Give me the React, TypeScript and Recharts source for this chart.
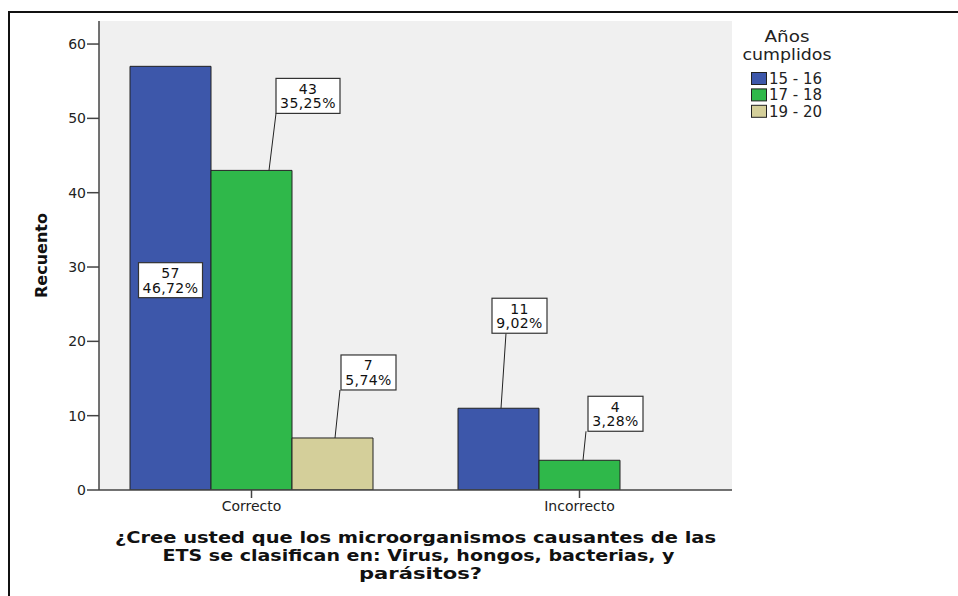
import React from "react";
import { BarChart, Bar, XAxis, YAxis, CartesianGrid, Legend } from "recharts";

// categories on the x axis
const categories = ["Correcto", "Incorrecto"];
// counts per age group
const age15to16 = [57, 11];
const age17to18 = [43, 4];
const age19to20: (number | null)[] = [7, null];
const seriesNames = ["15 - 16", "17 - 18", "19 - 20"];
const yTicks = [0, 10, 20, 30, 40, 50, 60];

const titleLines = [
  "¿Cree usted que los microorganismos causantes de las",
  "ETS se clasifican en: Virus, hongos, bacterias, y",
  "parásitos?",
];
const legendTitle = ["Años", "cumplidos"];

const COLORS = ["#3d57aa", "#2fb84a", "#d4cf9a"];
const FONT = '"DejaVu Sans", Verdana, sans-serif';

const data = categories.map((cat, i) => ({
  cat,
  s0: age15to16[i],
  s1: age17to18[i],
  s2: age19to20[i],
}));

const total = [...age15to16, ...age17to18, ...age19to20].reduce<number>((a, b) => a + (b ?? 0), 0);

// where each value box sits relative to its bar (annotation layout only)
const labelLayout: Record<string, { inside?: boolean; boxDx?: number; lift?: number; lineX?: number; endDx?: number }> = {
  "s0-0": { inside: true },
  "s1-0": { boxDx: 65, lift: 57, lineX: 58, endDx: 65 },
  "s2-0": { boxDx: 49, lift: 48, lineX: 43, endDx: 48 },
  "s0-1": { boxDx: 34, lift: 75, lineX: 43, endDx: 48 },
  "s1-1": { boxDx: 49, lift: 29, lineX: 44, endDx: 47 },
};

const titleWidths = [601, 512, 123];
const titleShift = [0, 3, 5];
const legendTitleWidths = [45, 89];

const charW = (s: string, fs: number) =>
  s.split("").reduce((w, ch) => w + (ch === "," ? 0.318 : ch === "%" ? 0.95 : 0.636), 0) * fs;

const makeLabel = (key: string) => (props: any) => {
  const { x, y, width, height, value, index } = props;
  if (value == null || !value) return null;
  const lay = labelLayout[`${key}-${index}`];
  if (!lay) return null;
  const pct = ((value / total) * 100).toFixed(2).replace(".", ",") + "%";
  const w = Math.round(charW(pct, 15) + 7);
  const h = 35;
  let bx: number, by: number;
  if (lay.inside) {
    bx = x + width / 2 - w / 2;
    by = y + height / 2 - h / 2 + 2;
  } else {
    bx = x + (lay.boxDx ?? 0);
    by = y - (lay.lift ?? 0) - h;
  }
  const cx = bx + w / 2;
  return (
    <g>
      {!lay.inside && (
        <line x1={x + (lay.lineX ?? 0)} y1={y} x2={x + (lay.endDx ?? 0)} y2={y - (lay.lift ?? 0)} stroke="#222" strokeWidth={1} />
      )}
      <rect x={bx} y={by} width={w} height={h} fill="#ffffff" stroke="#333" strokeWidth={1.2} />
      <text x={cx} y={by + 15.5} textAnchor="middle" fontSize={14} letterSpacing={0.4} fontFamily={FONT} fill="#111">{value}</text>
      <text x={cx} y={by + 30} textAnchor="middle" fontSize={14} letterSpacing={0.4} fontFamily={FONT} fill="#111">{pct}</text>
    </g>
  );
};

const XTitle = (props: any) => {
  const { viewBox } = props;
  const cx = viewBox.x + viewBox.width / 2;
  const y0 = viewBox.y;
  return (
    <g>
      {titleLines.map((l, i) => (
        <text
          key={i}
          x={cx + titleShift[i]}
          y={y0 + 53 + i * 18}
          textAnchor="middle"
          fontSize={16.5}
          fontWeight="bold"
          fontFamily={FONT}
          fill="#111"
          textLength={titleWidths[i]}
          lengthAdjust="spacingAndGlyphs"
        >
          {l}
        </text>
      ))}
    </g>
  );
};

const YTitle = (props: any) => {
  const { viewBox } = props;
  const cx = 47;
  const cy = viewBox.y + viewBox.height / 2;
  return (
    <text x={cx} y={cy} transform={`rotate(-90, ${cx}, ${cy})`} textAnchor="middle" fontSize={16} fontWeight="bold" fontFamily={FONT} fill="#111">
      Recuento
    </text>
  );
};

const renderLegend = (props: any) => {
  const payload = props.payload && props.payload.length ? props.payload : seriesNames.map((n, i) => ({ value: n, color: COLORS[i] }));
  return (
    <svg width={120} height={110} style={{ display: "block" }}>
      {legendTitle.map((t, i) => (
        <text
          key={t}
          x={52}
          y={22 + i * 17.5}
          textAnchor="middle"
          fontSize={15}
          fontFamily={FONT}
          fill="#222"
          textLength={legendTitleWidths[i]}
          lengthAdjust="spacingAndGlyphs"
        >
          {t}
        </text>
      ))}
      {payload.map((p: any, i: number) => (
        <g key={p.value}>
          <rect x={16.5} y={52.5 + i * 16.4} width={15} height={12} fill={p.color} stroke="#222" strokeWidth={1} />
          <text x={34} y={64 + i * 16.4} fontSize={15} fontFamily={FONT} fill="#222">{p.value}</text>
        </g>
      ))}
    </svg>
  );
};

export default function App() {
  return (
    <div style={{ position: "fixed", left: 0, top: 0, width: 958, height: 596, background: "#fff" }}>
      <div
        style={{
          position: "absolute",
          left: 8,
          top: 11,
          width: 950,
          height: 590,
          borderTop: "2px solid #111",
          borderLeft: "2px solid #111",
          boxSizing: "border-box",
        }}
      />
      <div style={{ position: "absolute", left: 0, top: 0 }}>
        <BarChart
          width={958}
          height={596}
          data={data}
          margin={{ top: 21, right: 226, left: 39, bottom: 76 }}
          barCategoryGap={42.5}
          barGap={0}
        >
          <CartesianGrid fill="#f0f0f0" horizontal={false} vertical={false} />
          <XAxis
            dataKey="cat"
            padding={{ left: -11.5, right: -11.5 }}
            interval={0}
            height={30}
            axisLine={{ stroke: "#444", strokeWidth: 1.5 }}
            tickLine={{ stroke: "#444", strokeWidth: 1.5 }}
            tickSize={8}
            tickMargin={3}
            tick={{ fontSize: 14, fill: "#222", fontFamily: FONT }}
            label={<XTitle />}
          />
          <XAxis
            xAxisId="top"
            orientation="top"
            dataKey="cat"
            height={0}
            tick={false}
            tickLine={false}
            axisLine={{ stroke: "#666", strokeWidth: 1.5 }}
          />
          <YAxis
            domain={[0, 63.1]}
            ticks={yTicks}
            width={60}
            allowDataOverflow
            axisLine={{ stroke: "#444", strokeWidth: 1.5 }}
            tickLine={{ stroke: "#444", strokeWidth: 1.5 }}
            tickSize={12}
            tickMargin={1}
            tick={{ fontSize: 14, fill: "#222", fontFamily: FONT }}
            label={<YTitle />}
          />
          <YAxis
            yAxisId="right"
            orientation="right"
            domain={[0, 63.1]}
            width={0}
            tick={false}
            tickLine={false}
            axisLine={{ stroke: "#666", strokeWidth: 1.5 }}
          />
          <Legend
            layout="horizontal"
            align="center"
            verticalAlign="middle"
            wrapperStyle={{ position: "absolute", left: 735, top: 20, width: 120, height: 110 }}
            content={renderLegend}
          />
          <Bar dataKey="s0" name={seriesNames[0]} fill={COLORS[0]} stroke="#222" strokeWidth={1} isAnimationActive={false} label={makeLabel("s0")} />
          <Bar dataKey="s1" name={seriesNames[1]} fill={COLORS[1]} stroke="#222" strokeWidth={1} isAnimationActive={false} label={makeLabel("s1")} />
          <Bar dataKey="s2" name={seriesNames[2]} fill={COLORS[2]} stroke="#222" strokeWidth={1} isAnimationActive={false} label={makeLabel("s2")} />
        </BarChart>
      </div>
    </div>
  );
}
